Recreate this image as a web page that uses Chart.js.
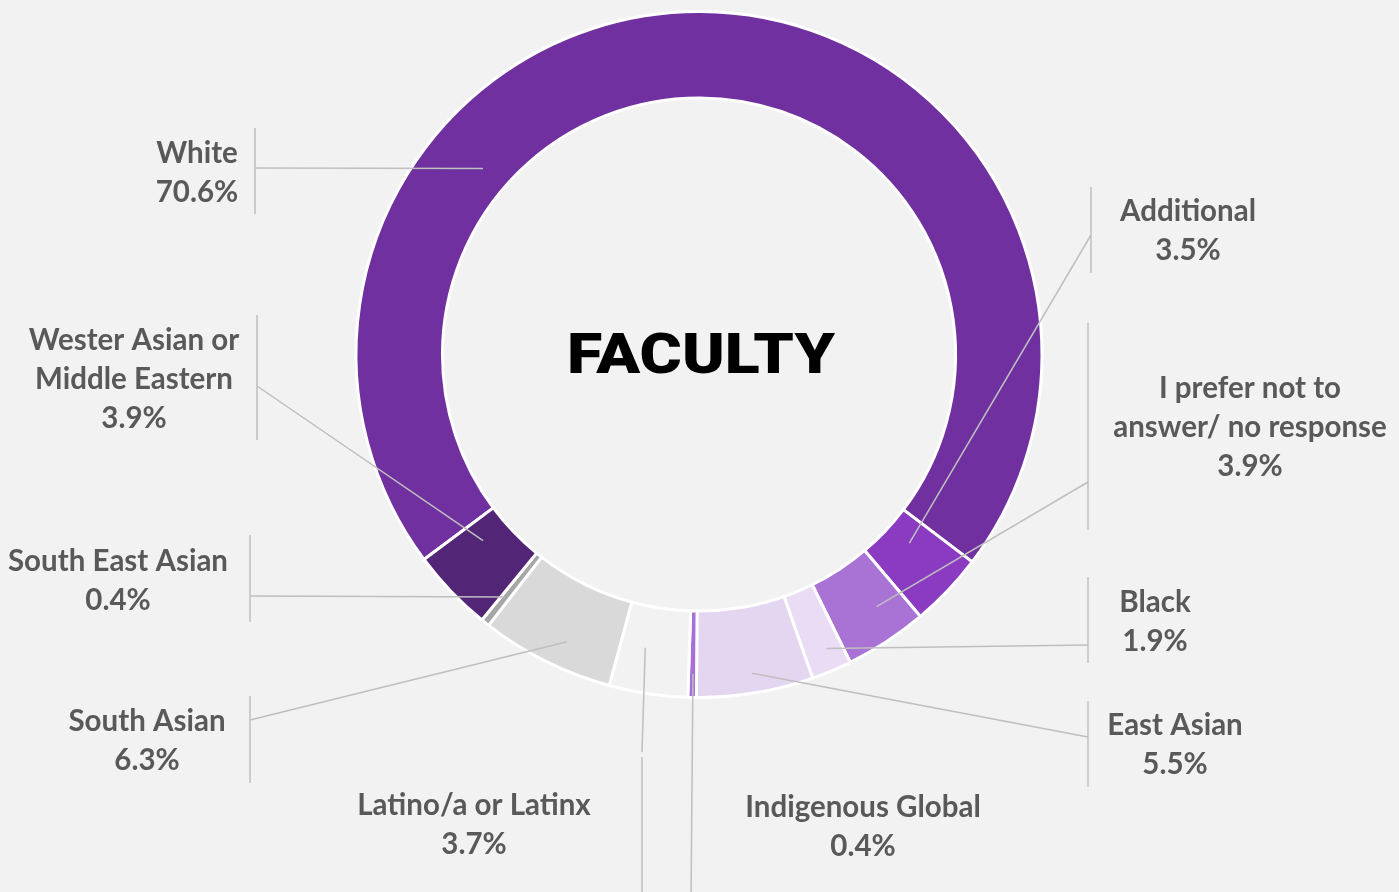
<!DOCTYPE html>
<html>
<head>
<meta charset="utf-8">
<script src="https://cdn.jsdelivr.net/npm/chart.js@4"></script>
<style>
  html, body { margin: 0; padding: 0; background: #F2F2F2; }
  #wrap { width: 1399px; height: 892px; position: relative; }
</style>
</head>
<body>
<div id="wrap"><canvas id="facultyChart"></canvas></div>
<script>
// data, clockwise from the lower-left edge of "White"
const categories = [
    ['White'],
    ['Additional'],
    ['I prefer not to', 'answer/ no response'],
    ['Black'],
    ['East Asian'],
    ['Indigenous Global'],
    ['Latino/a or Latinx'],
    ['South Asian'],
    ['South East Asian'],
    ['Wester Asian or', 'Middle Eastern']
];
const percents = [70.6, 3.5, 3.9, 1.9, 5.5, 0.4, 3.7, 6.3, 0.4, 3.9];
const sliceColors = ['#7030A0', '#8B3BC1', '#A873D4', '#EADCF5', '#E4D5F0',
                     '#A86FD8', '#F2F2F2', '#D9D9D9', '#A6A6A6', '#522577'];
const centerTitle = 'FACULTY';

// where each callout sits (t = along the slice, rf = across the ring)
const callouts = [
    { t: 0.305, rf: 0.33, jx: 255, jy: 168, bar: [255, 128, 214], cx: 197, by: 163 },
    { t: 0.37, rf: 0.30, jx: 1091, jy: 235, bar: [1091, 187, 273], cx: 1188, by: 221 },
    { t: 0.36, rf: 0.60, jx: 1088, jy: 482, bar: [1088, 323, 530], cx: 1250, by: 398 },
    { t: 0.40, rf: 0.74, jx: 1088, jy: 645, bar: [1088, 577, 663], cx: 1155, by: 612 },
    { t: 0.50, rf: 0.77, jx: 1088, jy: 737, bar: [1088, 701, 787], cx: 1175, by: 735 },
    { t: 0.45, rf: 0.73, jx: 691, jy: 900, bar: null, cx: 863, by: 817 },
    { t: 0.64, rf: 0.48, jx: 642, jy: 752, bar: [642, 757, 900], cx: 474, by: 815 },
    { t: 0.42, rf: 0.69, jx: 250, jy: 720, bar: [250, 696, 783], cx: 147, by: 731 },
    { t: 0.63, rf: 0.63, jx: 250, jy: 596, bar: [250, 535, 622], cx: 118, by: 571 },
    { t: 0.71, rf: 0.33, jx: 257, jy: 386, bar: [257, 315, 440], cx: 134, by: 350 }
];

const calloutPlugin = {
    id: 'callouts',
    beforeDraw(chart) {
        const ctx = chart.ctx;
        ctx.save();
        ctx.fillStyle = '#F2F2F2';
        ctx.fillRect(0, 0, chart.width, chart.height);
        ctx.restore();
    },
    afterDatasetsDraw(chart) {
        const ctx = chart.ctx;
        const arcs = chart.getDatasetMeta(0).data;
        ctx.save();

        // leader lines + brackets
        ctx.strokeStyle = '#BFBFBF';
        ctx.lineWidth = 1.5;
        arcs.forEach((arc, i) => {
            const c = callouts[i];
            const a = arc.startAngle + c.t * (arc.endAngle - arc.startAngle);
            const r = arc.innerRadius + c.rf * (arc.outerRadius - arc.innerRadius);
            ctx.beginPath();
            ctx.moveTo(arc.x + r * Math.cos(a), arc.y + r * Math.sin(a));
            ctx.lineTo(c.jx, c.jy);
            ctx.stroke();
            if (c.bar) {
                ctx.beginPath();
                ctx.moveTo(c.bar[0], c.bar[1]);
                ctx.lineTo(c.bar[0], c.bar[2]);
                ctx.stroke();
            }
        });

        // label text
        ctx.fillStyle = '#595959';
        ctx.font = 'bold 29.5px Lato, "Open Sans", sans-serif';
        ctx.textAlign = 'center';
        ctx.textBaseline = 'alphabetic';
        arcs.forEach((arc, i) => {
            const c = callouts[i];
            const lines = categories[i].concat([percents[i].toFixed(1) + '%']);
            lines.forEach((txt, k) => ctx.fillText(txt, c.cx, c.by + k * 39));
        });

        // centre title
        const m = arcs[0];
        ctx.fillStyle = '#000000';
        ctx.font = '900 55px Roboto, "DejaVu Sans", sans-serif';
        const w = ctx.measureText(centerTitle).width;
        ctx.translate(m.x + 2, 373);
        ctx.scale(268 / w, 1);
        ctx.fillText(centerTitle, 0, 0);
        ctx.restore();
    }
};

const ctx = document.getElementById('facultyChart').getContext('2d');
new Chart(ctx, {
    type: 'doughnut',
    data: {
        labels: categories,
        datasets: [{
            data: percents,
            backgroundColor: sliceColors,
            borderColor: '#FFFFFF',
            borderWidth: 3
        }]
    },
    options: {
        responsive: true,
        maintainAspectRatio: false,
        animation: false,
        rotation: 233.3,
        radius: 343,
        cutout: '74.8%',
        layout: { padding: { left: 0, right: 1, top: 0, bottom: 183 } },
        plugins: {
            legend: { display: false },
            tooltip: { enabled: false }
        }
    },
    plugins: [calloutPlugin]
});
</script>
</body>
</html>
